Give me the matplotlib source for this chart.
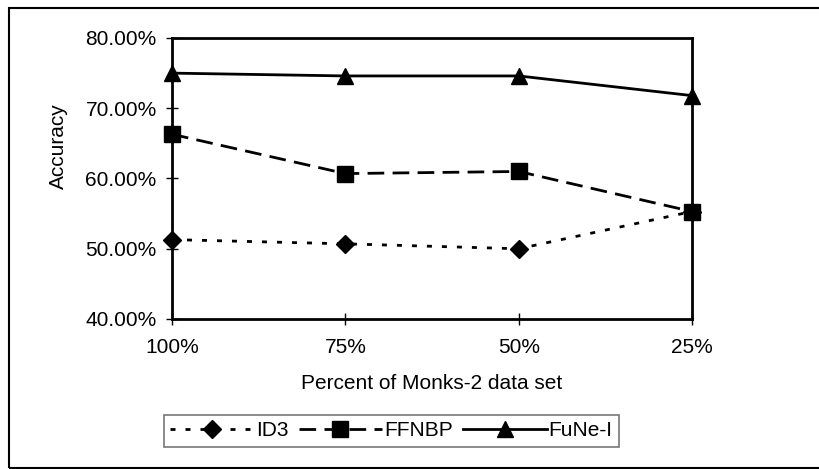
import matplotlib
matplotlib.use("Agg")
import matplotlib.pyplot as plt
from matplotlib.ticker import FuncFormatter
from matplotlib.patches import Rectangle

categories = ["100%", "75%", "50%", "25%"]
id3 = [51.3, 50.7, 50.0, 55.3]
ffnbp = [66.3, 60.7, 61.0, 55.3]
fune = [75.0, 74.6, 74.6, 71.8]
yticks = [40, 50, 60, 70, 80]

plt.rcParams['font.family'] = ['Liberation Sans', 'DejaVu Sans']

fig = plt.figure(figsize=(8.2, 4.69), dpi=100)
fig.patch.set_facecolor('white')
ax = fig.add_axes([172/820, 1 - 319/469, 520/820, 281/469])

x = list(range(len(categories)))
ax.plot(x, id3, color='black', lw=2.0, linestyle=(0, (1.8, 3.6)),
        marker='D', markersize=9.5, label='ID3', clip_on=False, zorder=3)
ax.plot(x, ffnbp, color='black', lw=2.0, linestyle=(0, (6, 3)),
        marker='s', markersize=12, label='FFNBP', clip_on=False, zorder=3)
ax.plot(x, fune, color='black', lw=2.0, linestyle='-',
        marker='^', markersize=12, label='FuNe-I', clip_on=False, zorder=3)

ax.set_xlim(0, 3)
ax.set_ylim(40, 80)
ax.set_xticks(x)
ax.set_xticklabels(categories)
ax.set_yticks(yticks)
ax.yaxis.set_major_formatter(FuncFormatter(lambda v, p: f"{v:.2f}%"))
ax.tick_params(axis='both', labelsize=15, direction='inout', length=8, width=1.0, colors='black')
ax.tick_params(axis='y', pad=7)
ax.tick_params(axis='x', pad=10)
for s in ax.spines.values():
    s.set_linewidth(2.0)
    s.set_color('black')

ax.set_ylabel("Accuracy", fontsize=15)
ax.yaxis.set_label_coords((68 - 172) / 520, (319 - 146) / 281)
ax.set_xlabel("Percent of Monks-2 data set", fontsize=15, labelpad=12)

leg = fig.legend(loc='center', bbox_to_anchor=(391.5/820, 1 - 431/469), ncol=3,
                 fontsize=15, frameon=True, fancybox=False, handlelength=4.0,
                 columnspacing=0.5, handletextpad=0.1, borderpad=0.3,
                 borderaxespad=0)
leg.get_frame().set_edgecolor('#555555')
leg.get_frame().set_linewidth(1.2)

fig.patches.append(Rectangle((9/820, 1 - 468/469), 1.2, 460/469, transform=fig.transFigure,
                             fill=False, edgecolor='black', lw=1.5, zorder=0))

fig.savefig("out.png", dpi=100, facecolor='white')
